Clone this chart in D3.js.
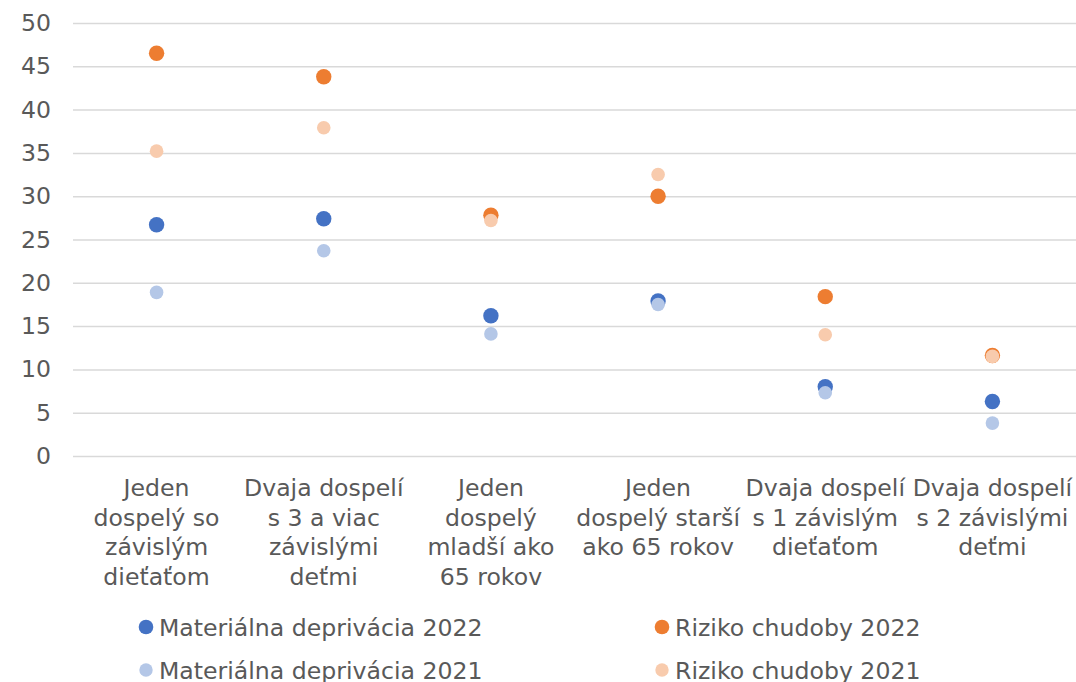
<!DOCTYPE html>
<html lang="sk">
<head>
<meta charset="utf-8">
<title>Materiálna deprivácia a riziko chudoby</title>
<script src="https://cdn.jsdelivr.net/npm/d3@7"></script>
<style>
    body { margin: 0; background: #fff; }
    svg text { font-family: "DejaVu Sans", Verdana, sans-serif; fill: #595959; }
</style>
</head>
<body>
<div id="chart"></div>
<script>
    var categories = [
        ["Jeden", "dospelý so", "závislým", "dieťaťom"],
        ["Dvaja dospelí", "s 3 a viac", "závislými", "deťmi"],
        ["Jeden", "dospelý", "mladší ako", "65 rokov"],
        ["Jeden", "dospelý starší", "ako 65 rokov"],
        ["Dvaja dospelí", "s 1 závislým", "dieťaťom"],
        ["Dvaja dospelí", "s 2 závislými", "deťmi"]
    ];
    var seriesNames = ["Materiálna deprivácia 2022", "Riziko chudoby 2022",
                       "Materiálna deprivácia 2021", "Riziko chudoby 2021"];
    var md2022 = [26.7, 27.4, 16.2, 17.9, 8.0, 6.3];
    var rc2022 = [46.5, 43.8, 27.8, 30.0, 18.4, 11.6];
    var md2021 = [18.9, 23.7, 14.1, 17.5, 7.3, 3.8];
    var rc2021 = [35.2, 37.9, 27.2, 32.5, 14.0, 11.5];
    var yTicks = [0, 5, 10, 15, 20, 25, 30, 35, 40, 45, 50];

    var WIDTH = 1076, HEIGHT = 682;
    var plotLeft = 73, plotRight = 1076, plotTop = 23, plotBottom = 456;
    var FS = 23.6;

    var colors = ["#4472C4", "#ED7D31", "#B4C7E7", "#F8CBAD"];
    var radii = [7.7, 7.7, 6.8, 6.8];
    var series = [md2022, rc2022, md2021, rc2021];

    var svg = d3.select("#chart").append("svg")
        .attr("width", WIDTH)
        .attr("height", HEIGHT);

    var x = d3.scaleBand()
        .domain(d3.range(categories.length))
        .range([plotLeft, plotRight]);
    var y = d3.scaleLinear()
        .domain([0, 50])
        .range([plotBottom, plotTop]);

    // gridlines + y labels
    var yAxis = d3.axisLeft(y)
        .tickValues(yTicks)
        .tickSize(-(plotRight - plotLeft))
        .tickPadding(22);
    var gy = svg.append("g")
        .attr("transform", "translate(" + plotLeft + ",0)")
        .call(yAxis);
    gy.select(".domain").remove();
    gy.selectAll(".tick line")
        .attr("stroke", "#D9D9D9")
        .attr("stroke-width", 1.5);
    gy.selectAll(".tick text")
        .attr("font-size", FS)
        .style("font-family", "DejaVu Sans, Verdana, sans-serif")
        .attr("fill", "#595959");

    // category labels
    var cat = svg.append("g").selectAll("text")
        .data(categories)
        .enter().append("text")
        .attr("text-anchor", "middle")
        .attr("font-size", FS)
        .attr("x", (d, i) => x(i) + x.bandwidth() / 2)
        .attr("y", 496);
    cat.selectAll("tspan")
        .data(d => d)
        .enter().append("tspan")
        .attr("x", function () { return d3.select(this.parentNode).attr("x"); })
        .attr("dy", (d, i) => i === 0 ? 0 : 29.5)
        .text(d => d);

    // points
    series.forEach(function (vals, s) {
        svg.append("g").selectAll("circle")
            .data(vals)
            .enter().append("circle")
            .attr("cx", (d, i) => x(i) + x.bandwidth() / 2)
            .attr("cy", d => y(d))
            .attr("r", radii[s])
            .attr("fill", colors[s]);
    });

    // legend
    var legX = [146, 662], legY = [627, 670];
    var leg = svg.append("g").selectAll("g")
        .data(seriesNames)
        .enter().append("g")
        .attr("transform", (d, i) => "translate(" + legX[i % 2] + "," + legY[Math.floor(i / 2)] + ")");
    leg.append("circle")
        .attr("r", (d, i) => i < 2 ? 7.3 : 6.7)
        .attr("fill", (d, i) => colors[i]);
    leg.append("text")
        .attr("x", 13)
        .attr("y", 8.5)
        .attr("font-size", FS)
        .text(d => d);
</script>
</body>
</html>
